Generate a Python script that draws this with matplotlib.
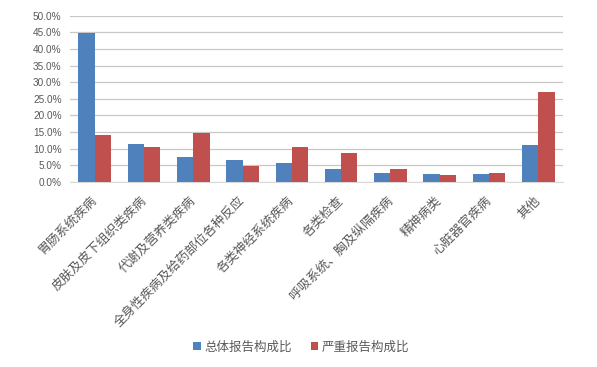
# -*- coding: utf-8 -*-
# 不良反应报告构成比 - grouped bar chart
import numpy as np
import matplotlib
matplotlib.use('Agg')
import matplotlib.pyplot as plt
from matplotlib.ticker import PercentFormatter

plt.rcParams['font.family'] = ['Noto Sans CJK SC', 'DejaVu Sans']

categories = ['胃肠系统疾病', '皮肤及皮下组织类疾病', '代谢及营养类疾病',
              '全身性疾病及给药部位各种反应', '各类神经系统疾病', '各类检查',
              '呼吸系统、胸及纵隔疾病', '精神病类', '心脏器官疾病', '其他']
total_share = [44.7, 11.4, 7.5, 6.6, 5.8, 4.0, 2.7, 2.5, 2.3, 11.2]
serious_share = [14.0, 10.4, 14.8, 4.9, 10.5, 8.6, 3.8, 2.0, 2.7, 27.0]
series_names = ['总体报告构成比', '严重报告构成比']

fig = plt.figure(figsize=(5.97, 3.67), dpi=100)
ax = fig.add_axes([70/597, 1-182/367, (563-70)/597, (182-15.7)/367])

x = np.arange(len(categories))
w = 0.33
ax.bar(x - w/2, total_share, w, color='#4F81BD', label=series_names[0], zorder=3)
ax.bar(x + w/2, serious_share, w, color='#C0504D', label=series_names[1], zorder=3)

ax.set_xlim(-0.5, len(categories) - 0.5)
ax.set_ylim(0, 50)
ax.set_yticks(np.arange(0, 50.1, 5))
ax.yaxis.set_major_formatter(PercentFormatter(decimals=1))
ax.grid(axis='y', color='#C8C8C8', linewidth=0.9, zorder=0)
for s in ['top', 'right', 'left']:
    ax.spines[s].set_visible(False)
ax.spines['bottom'].set_color('#D9D9D9')
ax.tick_params(axis='both', length=0, colors='#595959')
for t in ax.get_yticklabels():
    t.set_family(['Liberation Sans'])
    t.set_fontsize(7.2)
ax.tick_params(axis='y', pad=6)

ax.set_xticks(x)
ax.set_xticklabels(categories, rotation=45, ha='right', va='center',
                   rotation_mode='anchor', fontsize=9.2, color='#595959')
ax.tick_params(axis='x', pad=12)

fig.legend(loc='center', bbox_to_anchor=(0.505, 1-347/367), ncol=2, frameon=False,
           fontsize=9, handlelength=0.6, handleheight=0.6, handletextpad=0.3,
           columnspacing=1.5, labelcolor='#595959')

fig.savefig('out.png', dpi=100)
